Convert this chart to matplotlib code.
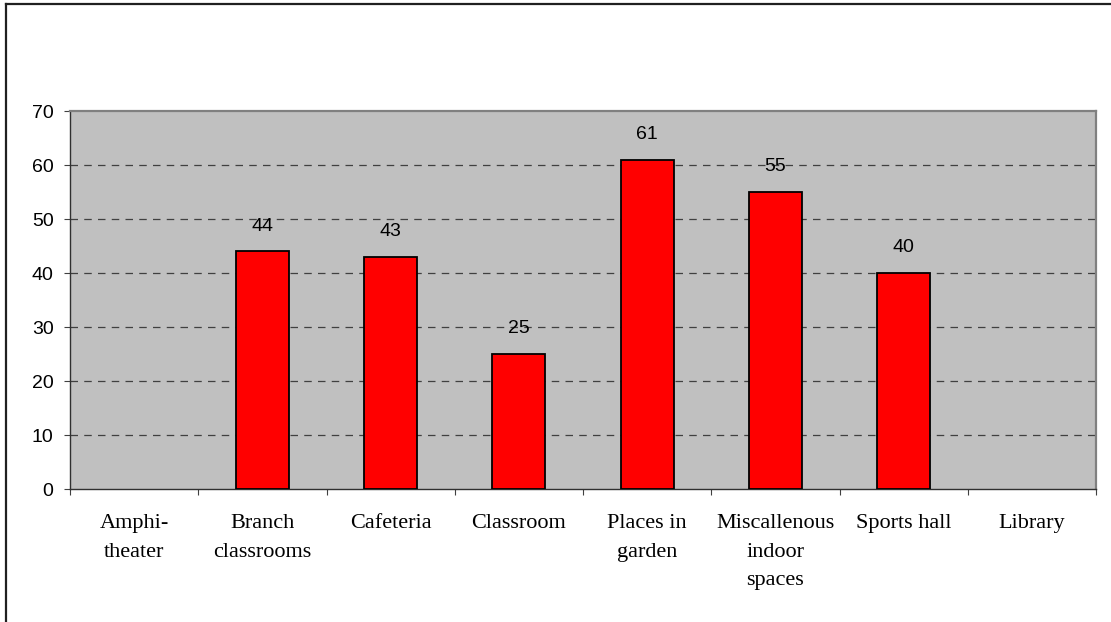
import matplotlib
matplotlib.use("Agg")
import matplotlib.pyplot as plt
from matplotlib.lines import Line2D
import numpy as np

categories = ["Amphi-\ntheater", "Branch\nclassrooms", "Cafeteria", "Classroom",
              "Places in\ngarden", "Miscallenous\nindoor\nspaces", "Sports hall",
              "Library"]
values = [0, 44, 43, 25, 61, 55, 40, 0]
y_ticks = [0, 10, 20, 30, 40, 50, 60, 70]


def main():
    W, H = 1111, 622
    fig = plt.figure(figsize=(W / 100, H / 100), dpi=100)
    ax = fig.add_axes([70 / W, 1 - 489 / H, 1026 / W, 378 / H])
    ax.set_facecolor("#c0c0c0")

    x = np.arange(len(categories))
    lw = [1.3 if v else 0 for v in values]
    ax.bar(x, values, width=0.415, color="#ff0000", edgecolor="black",
           linewidth=lw, zorder=3)
    for xi, v in zip(x, values):
        if v:
            ax.text(xi, v + 3.1, str(v), ha="center", va="bottom",
                    fontsize=14, family="Liberation Sans", color="black",
                    zorder=4)

    ax.set_xlim(-0.5, len(categories) - 0.5)
    ax.set_ylim(0, 70)
    ax.set_yticks(y_ticks)
    ax.set_yticklabels([str(t) for t in y_ticks], family="Liberation Sans",
                       fontsize=14)
    ax.tick_params(axis="y", direction="out", length=4.3, width=0.8,
                   color="#404040", pad=7.5)

    ax.set_xticks(x)
    ax.set_xticklabels(categories, family="Liberation Serif", fontsize=16,
                       linespacing=1.69, va="top")
    ax.tick_params(axis="x", which="major", length=0, pad=18)
    ax.set_xticks(np.arange(-0.5, len(categories)), minor=True)
    ax.tick_params(axis="x", which="minor", direction="out", length=4,
                   width=0.8, color="#404040")

    for t in y_ticks[1:-1]:
        ax.axhline(t, color="#404040", linestyle=(0, (6, 5)), linewidth=0.9,
                   zorder=1)

    for side in ("left", "bottom"):
        ax.spines[side].set_color("#303030")
        ax.spines[side].set_linewidth(1.0)
    for side in ("top", "right"):
        ax.spines[side].set_color("#808080")
        ax.spines[side].set_linewidth(1.6)

    # outer chart border (only top and left edges visible)
    fig.add_artist(Line2D([6 / W, 1], [1 - 4 / H, 1 - 4 / H],
                          color="#202020", linewidth=1.6))
    fig.add_artist(Line2D([6 / W, 6 / W], [0, 1 - 4 / H],
                          color="#202020", linewidth=1.6))

    fig.savefig("out.png", dpi=100)


if __name__ == "__main__":
    main()
